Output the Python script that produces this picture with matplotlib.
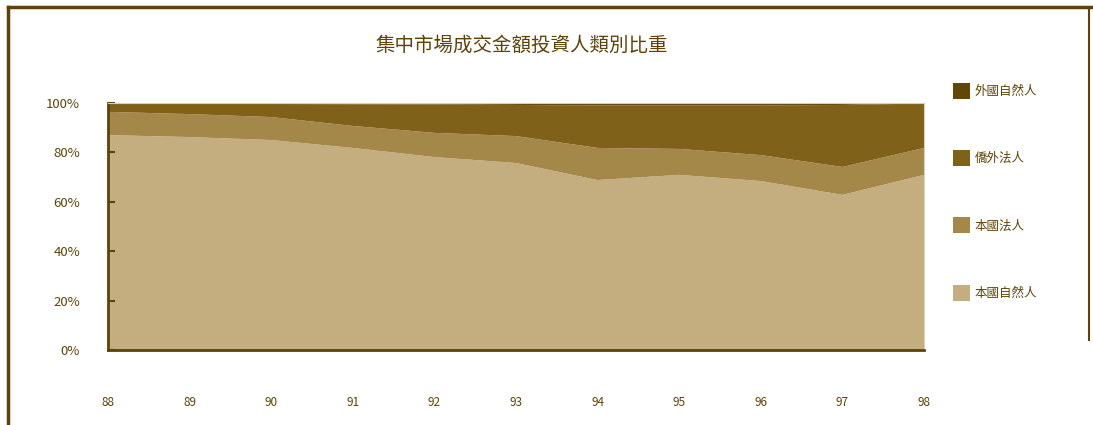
import matplotlib
matplotlib.use('Agg')
import matplotlib.pyplot as plt
from matplotlib.patches import Patch
from matplotlib.lines import Line2D
import numpy as np

plt.rcParams['font.family'] = ['Noto Sans CJK TC', 'DejaVu Sans']

# 民國年 88 ~ 98
years = ['88', '89', '90', '91', '92', '93', '94', '95', '96', '97', '98']

# 各類投資人成交比重 (%)
local_person = [87.0, 86.2, 85.0, 81.8, 78.1, 75.7, 68.8, 70.9, 68.4, 62.8, 70.9]
local_corp = [9.4, 9.3, 9.3, 8.9, 9.8, 10.9, 13.0, 10.5, 10.5, 11.3, 10.9]
foreign_corp = [3.3, 4.2, 5.3, 8.8, 11.5, 12.6, 17.2, 17.6, 20.1, 25.1, 18.0]
foreign_person = [0.3, 0.3, 0.4, 0.5, 0.6, 0.8, 1.0, 1.0, 1.0, 0.8, 0.2]

names = ['本國自然人', '本國法人', '僑外法人', '外國自然人']
colors = ['#c4ad7e', '#a3884a', '#80611a', '#614607']
edge = '#5e4308'

fig = plt.figure(figsize=(10.93, 4.25), dpi=100)
ax = fig.add_axes([0.0988, 0.1765, 0.7466, 0.5812])

x = np.arange(len(years))
ax.stackplot(x, local_person, local_corp, foreign_corp, foreign_person,
             colors=colors, linewidth=0)

ax.set_xlim(0, len(years) - 1)
ax.set_ylim(0, 100)
ax.set_yticks([0, 20, 40, 60, 80, 100])
ax.set_yticklabels(['0%', '20%', '40%', '60%', '80%', '100%'])
ax.set_xticks(x)
ax.set_xticklabels(years)
ax.tick_params(axis='y', direction='in', length=5, width=1.5, color=edge,
               labelsize=9.5, labelcolor=edge, pad=20)
ax.tick_params(axis='x', length=0, labelsize=8.5, labelcolor=edge, pad=33)

for s in ['left', 'bottom']:
    ax.spines[s].set_color(edge)
    ax.spines[s].set_linewidth(2)
for s in ['top', 'right']:
    ax.spines[s].set_color('#d9d1c0')
    ax.spines[s].set_linewidth(0.8)

fig.text(0.477, 0.893, '集中市場成交金額投資人類別比重', ha='center', va='center',
         fontsize=14, color=edge)

handles = [Patch(facecolor=c, edgecolor='none') for c in colors][::-1]
leg = fig.legend(handles, names[::-1], loc='upper left',
                 bbox_to_anchor=(0.862, 0.832), frameon=False,
                 handlelength=1.3, handleheight=1.6, handletextpad=0.4,
                 labelspacing=4.1, fontsize=9)
for t in leg.get_texts():
    t.set_color(edge)

# 外框
fig.add_artist(Line2D([0.0075, 0.0075], [0.0, 0.984], color=edge, lw=2.5))
fig.add_artist(Line2D([0.0075, 1.0], [0.984, 0.984], color=edge, lw=2.5))
fig.add_artist(Line2D([0.996, 0.996], [0.2, 0.984], color=edge, lw=1.5))

fig.savefig('out.png', dpi=100)
